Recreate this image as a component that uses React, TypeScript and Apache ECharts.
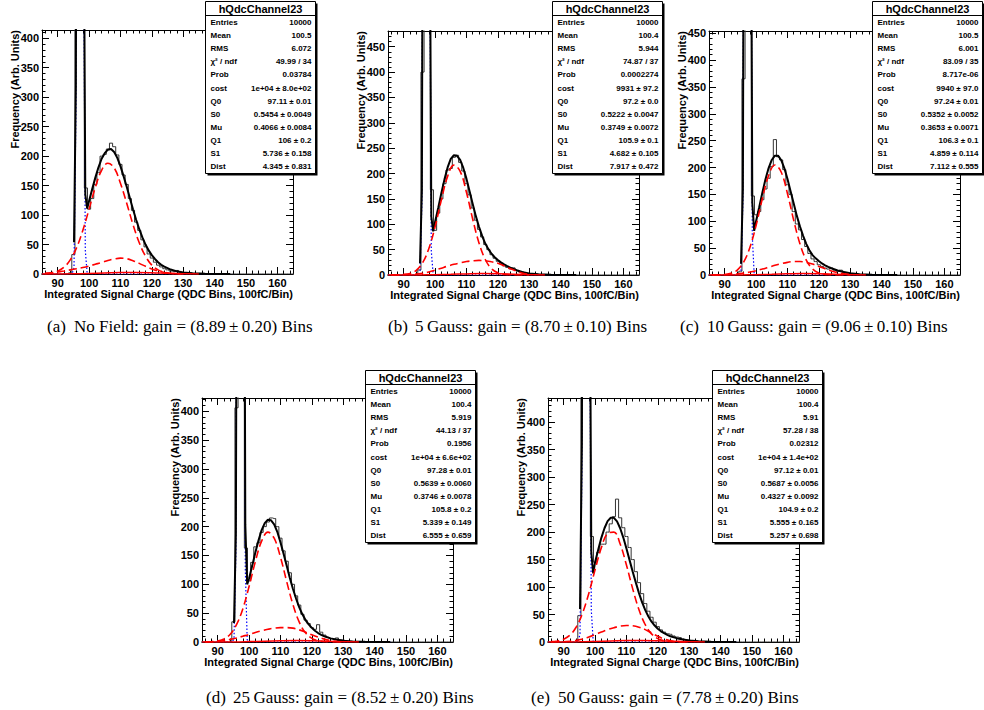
import { useEffect, useRef } from "react";
import * as echarts from "echarts";

const WIDTH = 984;
const HEIGHT = 710;
const SANS = '"Liberation Sans", Arial, Helvetica, sans-serif';
const SERIF = '"Liberation Serif", "Times New Roman", serif';

// Shared horizontal range of every QDC histogram
const X_MIN = 85;
const X_MAX = 165;
const xTickLabels = [90, 100, 110, 120, 130, 140, 150, 160];
const yTickLabels = [0, 50, 100, 150, 200, 250, 300, 350, 400, 450];

// Histogram contents: one entry per QDC bin, first bin centred on 94
const HIST_FIRST_BIN = 94;
const histNoField = [2, 33, 950, 4300, 1550, 146, 110, 128, 152, 172, 200, 203, 212, 222, 216, 202, 186, 168, 152, 128, 108, 88, 74, 58, 46, 34, 27, 20, 15, 12, 9, 7, 5, 4, 6, 3, 2, 1, 2, 1, 0, 1, 1];
const hist5G = [0, 10, 400, 4600, 1800, 168, 88, 122, 150, 180, 207, 210, 232, 236, 222, 205, 180, 158, 132, 108, 90, 75, 60, 50, 40, 33, 27, 22, 18, 15, 12, 14, 9, 6, 4, 3, 2, 1, 1, 1, 0, 0, 0];
const hist10G = [0, 7, 365, 4500, 2000, 147, 112, 118, 140, 160, 180, 202, 252, 220, 214, 196, 168, 150, 118, 95, 84, 66, 53, 40, 30, 25, 19, 16, 13, 11, 13, 9, 7, 9, 4, 3, 2, 1, 1, 1, 0, 0, 0];
const hist25G = [0, 35, 406, 4500, 1700, 163, 106, 138, 165, 172, 190, 200, 208, 215, 214, 200, 180, 158, 140, 120, 100, 80, 64, 48, 38, 32, 25, 22, 30, 17, 12, 8, 6, 5, 7, 4, 3, 2, 1, 1, 1, 1, 0];
const hist50G = [0, 48, 900, 3950, 1580, 192, 145, 163, 178, 178, 200, 215, 228, 260, 226, 208, 192, 172, 150, 128, 108, 88, 70, 56, 45, 36, 28, 22, 18, 15, 14, 11, 9, 8, 5, 4, 3, 2, 2, 1, 1, 0, 0];

// Abscissae at which the fit functions are sampled
const fitX = [95.2, 95.8, 96.4, 97.0, 97.6, 98.2, 98.8, 99.4, 100, 101, 102, 103, 104, 105, 106, 107, 108, 109, 110, 111, 112, 113, 114, 115, 116, 117, 118, 119, 120, 121, 122, 123, 124, 126, 128, 130, 133, 137, 141, 145];
const peX = [86, 88, 90, 92, 94, 96, 98, 100, 102, 104, 106, 108, 110, 112, 114, 116, 118, 120, 122, 124, 126, 128, 130];
const pedX = [85, 94.6, 95.2, 95.8, 96.4, 97.0, 97.6, 98.2, 98.8, 99.4, 100, 145];
const tailX = [85, 95, 100, 105, 110, 115, 120, 125, 130, 135];

// Total fit function
const fitNoField = [54, 320, 2145, 4840, 3326, 744, 135, 111, 124, 144, 163.5, 181, 195.5, 205, 211, 212, 207, 197, 183, 166, 148, 129, 110, 92, 76, 62, 50, 40, 32, 25.5, 20, 15.5, 12.5, 7.5, 4.5, 2.6, 1.2, 0.4, 0.1, 0];
const fit5G = [23, 167, 1660, 4923, 3953, 891, 115, 86, 104.5, 132, 161, 188.5, 212, 229, 236, 235, 227, 211, 190, 165, 140, 116, 95, 77, 62, 51, 42, 35, 29.5, 25, 21, 17.5, 14.5, 9.5, 5.5, 3, 1.3, 0.4, 0.1, 0];
const fit10G = [21, 160, 1530, 4685, 4143, 1082, 135, 82, 100, 126, 153, 178, 199, 214, 222, 222, 214, 199, 179, 156, 133, 110, 90, 73, 58, 46, 37, 31, 26, 21.5, 18, 15, 12.5, 8.5, 5.5, 3.3, 1.5, 0.5, 0.15, 0];
const fit25G = [33, 188, 1477, 4336, 4193, 1354, 203, 100, 110, 132, 155, 176, 194, 206, 212, 211, 204, 191, 173, 153, 132, 111, 92, 75, 60, 48, 38, 30.5, 24.5, 19.5, 15.5, 12.5, 10, 6.3, 3.8, 2.2, 1, 0.3, 0.1, 0];
const fit50G = [60, 360, 2100, 4520, 3269, 840, 163, 125, 145, 168, 189.5, 207, 220, 226, 226, 219.5, 207, 190, 170, 149, 128, 108, 89, 72, 58, 46.5, 37, 30, 24, 19.5, 16, 13, 10.5, 7, 4.5, 2.7, 1.2, 0.4, 0.1, 0];

// Single photo-electron component
const pe1NoField = [0.65, 1.9, 4.9, 11.4, 23.9, 44.3, 73.9, 110, 147, 176, 188, 180, 154, 120, 84, 53, 30, 15, 7, 3, 1, 0.3, 0];
const pe15G = [0, 0.2, 0.9, 3.1, 9.3, 23.8, 51.9, 94.9, 147.6, 194.4, 216.6, 204.4, 163, 110, 63.2, 30.6, 12.5, 4.3, 1.3, 0.3, 0, 0, 0];
const pe110G = [0, 0.2, 0.9, 3.1, 9.2, 23.6, 50.6, 92, 142, 185, 204.8, 191.6, 151.7, 101.8, 57.8, 27.7, 11.3, 3.9, 1.1, 0.3, 0, 0, 0];
const pe125G = [0.1, 0.5, 1.8, 5.3, 13.5, 30, 57.4, 96.1, 139.2, 174.8, 190.4, 179.9, 147.3, 104.7, 64.6, 34.4, 15.9, 6.4, 2.2, 0.7, 0.2, 0, 0];
const pe150G = [0.6, 1.8, 5.1, 12.5, 27.3, 52.3, 88.3, 131.3, 171.5, 197.4, 200, 178.2, 140, 96.7, 58.8, 31.4, 14.8, 6.2, 2.2, 0.7, 0.2, 0, 0];

// Second photo-electron component
const pe2NoField = [1, 2, 3.5, 5, 7, 9, 11, 13.5, 16.5, 19.5, 23, 25.5, 27, 26, 22.5, 18, 13, 8.5, 5, 2.5, 1, 0.3, 0];
const pe25G = [0.2, 0.4, 0.8, 1.2, 1.8, 3.5, 6, 9.5, 13.5, 17.5, 21, 24, 26.5, 28, 28.8, 28, 26, 23, 18, 12.5, 7.5, 3.5, 1];
const pe210G = [0, 0.2, 0.5, 1, 2, 3.5, 5.5, 8, 11, 14.5, 18, 21, 23.5, 25, 25, 23.5, 20.5, 16, 11.5, 7.5, 4.5, 2.3, 1];
const pe225G = [0.2, 0.5, 1, 2.5, 4.5, 7, 10, 13, 16.5, 19.5, 22, 24, 25, 25, 24, 21, 17, 12.5, 8.5, 5, 2.5, 1, 0.3];
const pe250G = [0.1, 0.2, 0.5, 1.5, 3, 5.5, 9, 13.5, 18, 22.5, 26, 28.8, 30, 29.5, 27, 22.5, 16.5, 10.5, 5.5, 2.3, 0.8, 0.2, 0];

// Pedestal component
const pedNoField = [0, 0, 10.6, 273, 2090, 4778, 3250, 659, 40, 0.7, 0, 0];
const ped5G = [0, 0, 3.4, 143, 1630, 4886, 3908, 835, 47, 0.8, 0, 0];
const ped10G = [0, 0, 3.6, 138, 1502, 4650, 4100, 1031, 72.5, 1.5, 0, 0];
const ped25G = [0, 0, 5.4, 156, 1440, 4290, 4139, 1290, 127, 4.1, 0, 0];
const ped50G = [0, 0, 15, 309, 2040, 4451, 3186, 746, 58, 1.5, 0, 0];

// Third photo-electron component
const pe3NoField = [0, 0.3, 0.8, 1.6, 2.4, 2.7, 2.2, 1.2, 0.4, 0];
const pe35G = [0, 0.2, 0.6, 1.3, 2.2, 2.8, 2.6, 1.7, 0.7, 0.1];
const pe310G = [0, 0.2, 0.6, 1.3, 2.1, 2.6, 2.4, 1.5, 0.6, 0.1];
const pe325G = [0, 0.2, 0.7, 1.4, 2.2, 2.6, 2.2, 1.3, 0.5, 0];
const pe350G = [0, 0.3, 0.9, 1.7, 2.6, 2.9, 2.3, 1.2, 0.4, 0];

// Statistics box contents
const statLabels = ["Entries", "Mean", "RMS", "\u03c7\u00b2 / ndf", "Prob", "cost", "Q0", "S0", "Mu", "Q1", "S1", "Dist"];
const statsNoField = ["10000", "100.5", "6.072", "49.99 / 34", "0.03784", "1e+04 \u00b1 8.0e+02", "97.11 \u00b1 0.01", "0.5454 \u00b1 0.0049", "0.4066 \u00b1 0.0084", "106 \u00b1 0.2", "5.736 \u00b1 0.158", "4.345 \u00b1 0.831"];
const stats5G = ["10000", "100.4", "5.944", "74.87 / 37", "0.0002274", "9931 \u00b1 97.2", "97.2 \u00b1 0.0", "0.5222 \u00b1 0.0047", "0.3749 \u00b1 0.0072", "105.9 \u00b1 0.1", "4.682 \u00b1 0.105", "7.917 \u00b1 0.472"];
const stats10G = ["10000", "100.5", "6.001", "83.09 / 35", "8.717e-06", "9940 \u00b1 97.0", "97.24 \u00b1 0.01", "0.5352 \u00b1 0.0052", "0.3653 \u00b1 0.0071", "106.3 \u00b1 0.1", "4.859 \u00b1 0.114", "7.112 \u00b1 0.555"];
const stats25G = ["10000", "100.4", "5.919", "44.13 / 37", "0.1956", "1e+04 \u00b1 6.6e+02", "97.28 \u00b1 0.01", "0.5639 \u00b1 0.0060", "0.3746 \u00b1 0.0078", "105.8 \u00b1 0.2", "5.339 \u00b1 0.149", "6.555 \u00b1 0.659"];
const stats50G = ["10000", "100.4", "5.91", "57.28 / 38", "0.02312", "1e+04 \u00b1 1.4e+02", "97.12 \u00b1 0.01", "0.5687 \u00b1 0.0056", "0.4327 \u00b1 0.0092", "104.9 \u00b1 0.2", "5.555 \u00b1 0.165", "5.257 \u00b1 0.698"];

const captionTags = ["(a)", "(b)", "(c)", "(d)", "(e)"];
const captionTexts = [
  "No Field: gain = (8.89\u2009\u00b1\u20090.20) Bins",
  "5\u2009Gauss: gain = (8.70\u2009\u00b1\u20090.10) Bins",
  "10\u2009Gauss: gain = (9.06\u2009\u00b1\u20090.10) Bins",
  "25\u2009Gauss: gain = (8.52\u2009\u00b1\u20090.20) Bins",
  "50\u2009Gauss: gain = (7.78\u2009\u00b1\u20090.20) Bins",
];
const yAxisMax = [414, 481, 454, 423, 444];

const HIST_NAME = "hQdcChannel23";
const X_TITLE = "Integrated Signal Charge (QDC Bins, 100fC/Bin)";
const Y_TITLE = "Frequency (Arb. Units)";

// Page layout of the five pads
const FRAME_W = 251;
const FRAME_H = 244;
const BOX_W = 110;
const BOX_H = 172;
const CAPTION_SIZE = 17;
const layout = [
  { left: 42, top: 30, boxX: 205, boxY: 1, capX: 47, capTextX: 74, capY: 326 },
  { left: 388, top: 31, boxX: 552, boxY: 1, capX: 388, capTextX: 415, capY: 326 },
  { left: 709, top: 31, boxX: 872, boxY: 1, capX: 680, capTextX: 707, capY: 326 },
  { left: 202, top: 398, boxX: 365, boxY: 370, capX: 206, capTextX: 233, capY: 697 },
  { left: 548, top: 398, boxX: 712, boxY: 370, capX: 531, capTextX: 558, capY: 697 },
];

const panels = [
  { hist: histNoField, fit: fitNoField, pe1: pe1NoField, pe2: pe2NoField, pe3: pe3NoField, ped: pedNoField, stats: statsNoField },
  { hist: hist5G, fit: fit5G, pe1: pe15G, pe2: pe25G, pe3: pe35G, ped: ped5G, stats: stats5G },
  { hist: hist10G, fit: fit10G, pe1: pe110G, pe2: pe210G, pe3: pe310G, ped: ped10G, stats: stats10G },
  { hist: hist25G, fit: fit25G, pe1: pe125G, pe2: pe225G, pe3: pe325G, ped: ped25G, stats: stats25G },
  { hist: hist50G, fit: fit50G, pe1: pe150G, pe2: pe250G, pe3: pe350G, ped: ped50G, stats: stats50G },
];

const pairs = (xs: number[], ys: number[]) => xs.map((x, k) => [x, ys[k]]);

function histogramData(values: number[]) {
  const out: number[][] = [];
  for (let b = X_MIN - 1; b <= X_MAX + 1; b++) {
    const k = b - HIST_FIRST_BIN;
    out.push([b, k >= 0 && k < values.length ? values[k] : 0]);
  }
  return out;
}

function tickRange(from: number, to: number, step: number) {
  const out: number[] = [];
  for (let v = from; v <= to + 1e-9; v += step) out.push(v);
  return out;
}

const BLACK = "#000";
const tickLine = { color: BLACK, width: 1 };

function buildOption() {
  const grid: any[] = [];
  const xAxis: any[] = [];
  const yAxis: any[] = [];
  const series: any[] = [];
  const graphic: any[] = [];

  const xMinor = tickRange(86, 164, 2);

  panels.forEach((p, i) => {
    const L = layout[i];
    const yMax = yAxisMax[i];
    const yMajor = yTickLabels.filter((v) => v <= yMax);
    const yMinor = tickRange(10, yMax, 10);

    grid.push({ left: L.left, top: L.top, width: FRAME_W, height: FRAME_H, containLabel: false, show: false });

    const xBase = { gridIndex: i, type: "value", min: X_MIN, max: X_MAX, splitLine: { show: false }, silent: true };
    const yBase = { gridIndex: i, type: "value", min: 0, max: yMax, splitLine: { show: false }, silent: true };
    const labelStyle = { color: BLACK, fontSize: 11, fontWeight: "bold", fontFamily: SANS };

    xAxis.push(
      {
        ...xBase, position: "bottom",
        axisLine: { show: true, onZero: false, lineStyle: tickLine },
        axisTick: { show: true, inside: true, length: 7, customValues: xTickLabels, lineStyle: tickLine },
        axisLabel: { show: true, customValues: xTickLabels, margin: 3, ...labelStyle },
      },
      {
        ...xBase, position: "bottom",
        axisLine: { show: false, onZero: false },
        axisTick: { show: true, inside: true, length: 3.5, customValues: xMinor, lineStyle: tickLine },
        axisLabel: { show: false },
      },
      {
        ...xBase, position: "top",
        axisLine: { show: true, onZero: false, lineStyle: tickLine },
        axisTick: { show: true, inside: true, length: 7, customValues: xTickLabels, lineStyle: tickLine },
        axisLabel: { show: false },
      },
      {
        ...xBase, position: "top",
        axisLine: { show: false, onZero: false },
        axisTick: { show: true, inside: true, length: 3.5, customValues: xMinor, lineStyle: tickLine },
        axisLabel: { show: false },
      }
    );

    yAxis.push(
      {
        ...yBase, position: "left",
        axisLine: { show: true, onZero: false, lineStyle: tickLine },
        axisTick: { show: true, inside: true, length: 7, customValues: yMajor, lineStyle: tickLine },
        axisLabel: { show: true, customValues: yMajor, margin: 3, ...labelStyle },
      },
      {
        ...yBase, position: "left",
        axisLine: { show: false, onZero: false },
        axisTick: { show: true, inside: true, length: 3.5, customValues: yMinor, lineStyle: tickLine },
        axisLabel: { show: false },
      },
      {
        ...yBase, position: "right",
        axisLine: { show: true, onZero: false, lineStyle: tickLine },
        axisTick: { show: true, inside: true, length: 7, customValues: yMajor, lineStyle: tickLine },
        axisLabel: { show: false },
      },
      {
        ...yBase, position: "right",
        axisLine: { show: false, onZero: false },
        axisTick: { show: true, inside: true, length: 3.5, customValues: yMinor, lineStyle: tickLine },
        axisLabel: { show: false },
      }
    );

    // Histogram outline first, then the pedestal, the total fit and the photo-electron terms
    const ax = { xAxisIndex: 4 * i, yAxisIndex: 4 * i, symbol: "none", silent: true, clip: true };
    series.push(
      { ...ax, type: "line", name: "hist" + i, data: histogramData(p.hist), step: "middle", lineStyle: { color: "#333", width: 1 }, z: 2 },
      { ...ax, type: "line", name: "ped" + i, data: pairs(pedX, p.ped), lineStyle: { color: "#0000ff", width: 1.2, type: [1.5, 2] }, z: 3 },
      { ...ax, type: "line", name: "fit" + i, data: pairs(fitX, p.fit), lineStyle: { color: BLACK, width: 2 }, z: 4 },
      { ...ax, type: "line", name: "pe1_" + i, data: pairs(peX, p.pe1), smooth: 0.4, lineStyle: { color: "#ff0000", width: 1.6, type: [8, 4] }, z: 5 },
      { ...ax, type: "line", name: "pe2_" + i, data: pairs(peX, p.pe2), smooth: 0.4, lineStyle: { color: "#ff0000", width: 1.6, type: [8, 4] }, z: 5 },
      { ...ax, type: "line", name: "pe3_" + i, data: pairs(tailX, p.pe3), smooth: 0.4, lineStyle: { color: "#ff0000", width: 1.5 }, z: 5 }
    );

    // Axis titles
    graphic.push(
      {
        type: "text", x: L.left + FRAME_W, y: L.top + FRAME_H + 20, z: 20,
        style: { text: X_TITLE, fill: BLACK, fontSize: 11, fontWeight: "bold", fontFamily: SANS, align: "right", verticalAlign: "middle" },
      },
      {
        type: "text", x: L.left - 27, y: L.top, rotation: Math.PI / 2, z: 20,
        style: { text: Y_TITLE, fill: BLACK, fontSize: 11, fontWeight: "bold", fontFamily: SANS, align: "right", verticalAlign: "middle" },
      }
    );

    // Statistics box
    const bx = L.boxX + 0.5;
    const by = L.boxY + 0.5;
    graphic.push(
      { type: "rect", z: 50, shape: { x: bx + 2, y: by + 2, width: BOX_W, height: BOX_H }, style: { fill: BLACK } },
      { type: "rect", z: 51, shape: { x: bx, y: by, width: BOX_W, height: BOX_H }, style: { fill: "#fff", stroke: BLACK, lineWidth: 1 } },
      { type: "line", z: 52, shape: { x1: bx, y1: by + 14, x2: bx + BOX_W, y2: by + 14 }, style: { stroke: BLACK, lineWidth: 1 } },
      {
        type: "text", z: 52, x: bx + BOX_W / 2, y: by + 7.5,
        style: { text: HIST_NAME, fill: BLACK, fontSize: 11, fontWeight: "bold", fontFamily: SANS, align: "center", verticalAlign: "middle" },
      }
    );
    statLabels.forEach((label, r) => {
      const ry = by + 21 + r * 13.1;
      graphic.push(
        {
          type: "text", z: 52, x: bx + 5, y: ry,
          style: { text: label, fill: BLACK, fontSize: 8, fontWeight: "bold", fontFamily: SANS, align: "left", verticalAlign: "middle" },
        },
        {
          type: "text", z: 52, x: bx + BOX_W - 4, y: ry,
          style: { text: p.stats[r], fill: BLACK, fontSize: 8, fontWeight: "bold", fontFamily: SANS, align: "right", verticalAlign: "middle" },
        }
      );
    });

    // Sub-figure caption
    graphic.push(
      {
        type: "text", z: 20, x: L.capX, y: L.capY,
        style: { text: captionTags[i], fill: BLACK, fontSize: CAPTION_SIZE, fontFamily: SERIF, align: "left", verticalAlign: "middle" },
      },
      {
        type: "text", z: 20, x: L.capTextX, y: L.capY,
        style: { text: captionTexts[i], fill: BLACK, fontSize: CAPTION_SIZE, fontFamily: SERIF, align: "left", verticalAlign: "middle" },
      }
    );
  });

  return {
    animation: false,
    backgroundColor: "#fff",
    grid,
    xAxis,
    yAxis,
    series,
    graphic,
  };
}

export default function App() {
  const ref = useRef<HTMLDivElement>(null);
  useEffect(() => {
    if (!ref.current) return;
    const chart = echarts.init(ref.current, undefined, { renderer: "svg", width: WIDTH, height: HEIGHT });
    chart.setOption(buildOption() as any);
    return () => chart.dispose();
  }, []);
  return (
    <div
      ref={ref}
      style={{ position: "absolute", left: 0, top: 0, width: WIDTH, height: HEIGHT, background: "#fff" }}
    />
  );
}
